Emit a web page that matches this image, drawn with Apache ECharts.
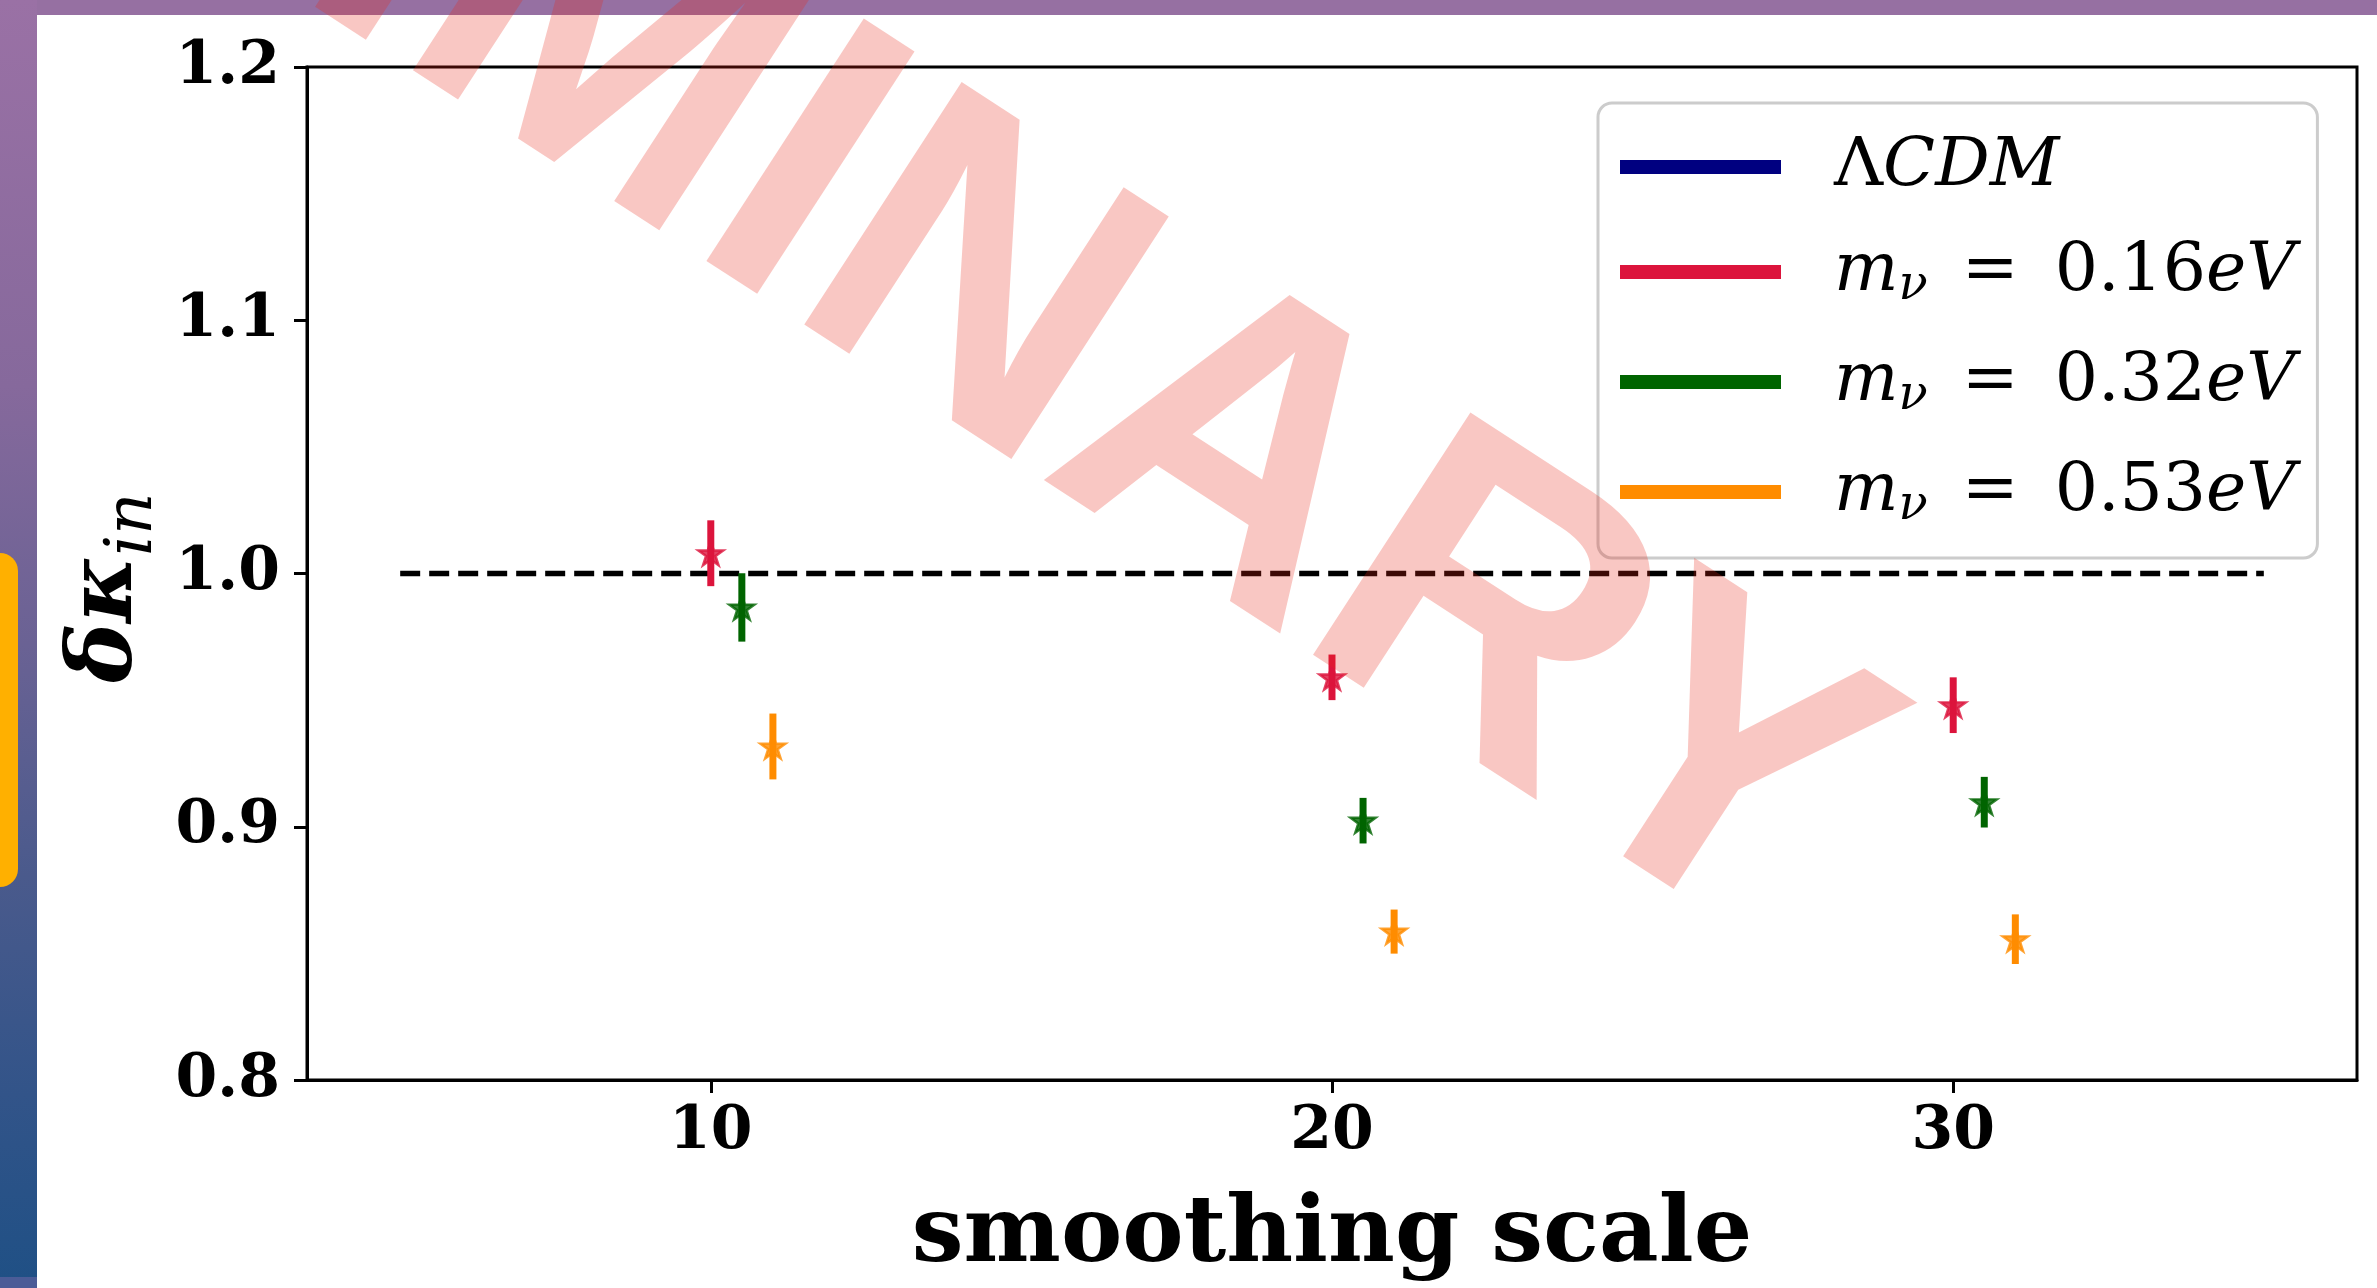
<!DOCTYPE html>
<html><head><meta charset="utf-8">
<script src="https://cdn.jsdelivr.net/npm/echarts@6/dist/echarts.min.js"></script>
<style>html,body{margin:0;padding:0;background:#fff;overflow:hidden}#c{width:2377px;height:1288px;}</style>
</head><body><div id="c"></div>
<script>
// ---- data ----
const xTickValues = [10, 20, 30];
const yMin = 0.8, yMax = 1.2, yStep = 0.1;
const xMin = 3.5, xMax = 36.5;
const xRed = [10, 20, 30];
const yRed = [1.008, 0.959, 0.948];
const eRed = [0.013, 0.009, 0.011];
const xGreen = [10.5, 20.5, 30.5];
const yGreen = [0.9866, 0.9024, 0.9097];
const eGreen = [0.0135, 0.009, 0.010];
const xOrange = [11, 21, 31];
const yOrange = [0.9317, 0.8586, 0.8556];
const eOrange = [0.013, 0.0087, 0.0098];
const refX = [5, 35];
const refY = [1.0, 1.0];
const massLabels = ['0.16', '0.32', '0.53'];
const xTitle = 'smoothing scale';
const watermark = 'PRELIMINARY';

const C_NAVY = '#000080', C_RED = '#DC143C', C_GREEN = '#006400', C_ORANGE = '#FF8C00';
const STAR = 'path://M50,0L61.23,34.55L97.55,34.55L68.16,55.9L79.39,90.45L50,69.1L20.61,90.45L31.84,55.9L2.45,34.55L38.77,34.55Z';

function errData(xs, ys, es) { return xs.map((x, i) => [x, ys[i] - es[i], ys[i] + es[i]]); }
function ptData(xs, ys) { return xs.map((x, i) => [x, ys[i]]); }
function errRender(params, api) {
  const x = api.value(0);
  const p1 = api.coord([x, api.value(1)]), p2 = api.coord([x, api.value(2)]);
  return { type: 'line', shape: { x1: p1[0], y1: p1[1], x2: p2[0], y2: p2[1] },
    style: { stroke: api.visual('color'), lineWidth: 7 } };
}
const groups = [
  { name: 'm016', color: C_RED, xs: xRed, ys: yRed, es: eRed },
  { name: 'm032', color: C_GREEN, xs: xGreen, ys: yGreen, es: eGreen },
  { name: 'm053', color: C_ORANGE, xs: xOrange, ys: yOrange, es: eOrange }
];
const massText = m => '{it|m}{sub|\u03BD}{eq|=}{up|' + m + '}{it|eV}';
const legendText = {
  LCDM: '{up|\u039B}{it|CDM}',
  m016: massText(massLabels[0]),
  m032: massText(massLabels[1]),
  m053: massText(massLabels[2])
};

const series = [
  { name: 'LCDM', type: 'line', data: [], itemStyle: { color: C_NAVY }, lineStyle: { color: C_NAVY } },
  { name: 'ref', type: 'line', data: ptData(refX, refY), symbol: 'none', silent: true, z: 1,
    lineStyle: { color: '#000', width: 5.5, type: [20, 9] } }
];
groups.forEach(g => {
  series.push({ name: g.name, type: 'custom', renderItem: errRender, data: errData(g.xs, g.ys, g.es),
    encode: { x: 0, y: [1, 2] }, itemStyle: { color: g.color }, z: 3 });
  series.push({ name: g.name, type: 'scatter', data: ptData(g.xs, g.ys), symbol: STAR,
    symbolSize: [25, 24], itemStyle: { color: g.color, borderColor: g.color, borderWidth: 2.5 }, z: 4 });
});

const serif = '"DejaVu Serif", serif';
const chart = echarts.init(document.getElementById('c'), null, { renderer: 'canvas' });
chart.setOption({
  animation: false,
  backgroundColor: '#ffffff',
  grid: { left: 307, top: 67, right: 20, bottom: 204, show: true, borderColor: '#000', borderWidth: 3,
    backgroundColor: 'transparent' },
  xAxis: {
    type: 'value', min: xMin, max: xMax,
    axisLine: { show: true, lineStyle: { color: '#000', width: 3 } },
    axisTick: { show: true, customValues: xTickValues, length: 13, inside: false, lineStyle: { color: '#000', width: 3 } },
    axisLabel: { customValues: xTickValues, margin: 22, color: '#000',
      fontFamily: serif, fontWeight: 'bold', fontSize: 60 },
    splitLine: { show: false },
    name: xTitle, nameLocation: 'middle', nameGap: 111,
    nameTextStyle: { fontFamily: serif, fontWeight: 'bold', fontSize: 92, color: '#000' }
  },
  yAxis: {
    type: 'value', min: yMin, max: yMax, interval: yStep,
    axisLine: { show: true, lineStyle: { color: '#000', width: 3 } },
    axisTick: { show: true, length: 13, lineStyle: { color: '#000', width: 3 } },
    axisLabel: { margin: 27, color: '#000', fontFamily: serif, fontWeight: 'bold', fontSize: 60,
      formatter: v => v.toFixed(1) },
    splitLine: { show: false }
  },
  legend: {
    data: ['LCDM', 'm016', 'm032', 'm053'],
    orient: 'vertical', left: 1598, top: 103,
    icon: 'rect', itemWidth: 161, itemHeight: 14, itemGap: 37,
    padding: [30, 22, 27, 22],
    backgroundColor: 'rgba(255,255,255,0.8)', borderColor: '#cccccc', borderWidth: 3, borderRadius: 14,
    selectedMode: false,
    formatter: n => legendText[n],
    textStyle: {
      color: '#000', padding: [0, 0, 0, 48],
      rich: {
        up: { fontFamily: serif, fontSize: 68, fontStyle: 'normal', lineHeight: 78, color: '#000' },
        eq: { fontFamily: serif, fontSize: 68, fontStyle: 'normal', lineHeight: 78, color: '#000', padding: [0, 36, 0, 34] },
        it: { fontFamily: serif, fontSize: 68, fontStyle: 'italic', lineHeight: 78, color: '#000' },
        sub: { fontFamily: serif, fontSize: 48, fontStyle: 'italic', lineHeight: 48, verticalAlign: 'bottom', color: '#000' }
      }
    }
  },
  graphic: [
    { type: 'rect', z: -10, silent: true, shape: { x: 0, y: 0, width: 2377, height: 15 }, style: { fill: '#9670a2' } },
    { type: 'rect', z: -10, silent: true, shape: { x: 0, y: 0, width: 37, height: 1288 },
      style: { fill: new echarts.graphic.LinearGradient(0, 0, 0, 1, [
        { offset: 0, color: '#9a71a5' }, { offset: 0.3, color: '#86699c' }, { offset: 0.5, color: '#6a6294' },
        { offset: 0.68, color: '#4a5a8c' }, { offset: 0.85, color: '#325489' }, { offset: 1, color: '#1f5085' }]) } },
    { type: 'rect', z: -9, silent: true, shape: { x: 0, y: 1277, width: 37, height: 11 }, style: { fill: '#4b5c97' } },
    { type: 'rect', z: -8, silent: true, shape: { x: -30, y: 553, width: 48, height: 334, r: 18 }, style: { fill: '#ffb000' } },
    { type: 'text', z: 50, silent: true, x: 108, y: 683, rotation: Math.PI / 2,
      style: { text: '\u03B4\u03BA', font: 'italic bold 90px "DejaVu Serif"', fill: '#000', align: 'left', verticalAlign: 'middle' } },
    { type: 'text', z: 50, silent: true, x: 134, y: 556, rotation: Math.PI / 2,
      style: { text: 'in', font: 'italic 66px "DejaVu Serif"', fill: '#000', align: 'left', verticalAlign: 'middle' } },
    { type: 'text', z: 100, silent: true, x: 622, y: 68, rotation: -33 * Math.PI / 180,
      style: { text: watermark, font: 'bold 420px "Liberation Sans"', fill: 'rgba(231,37,25,0.26)', align: 'center', verticalAlign: 'middle' } }
  ],
  series: series
});
</script></body></html>
